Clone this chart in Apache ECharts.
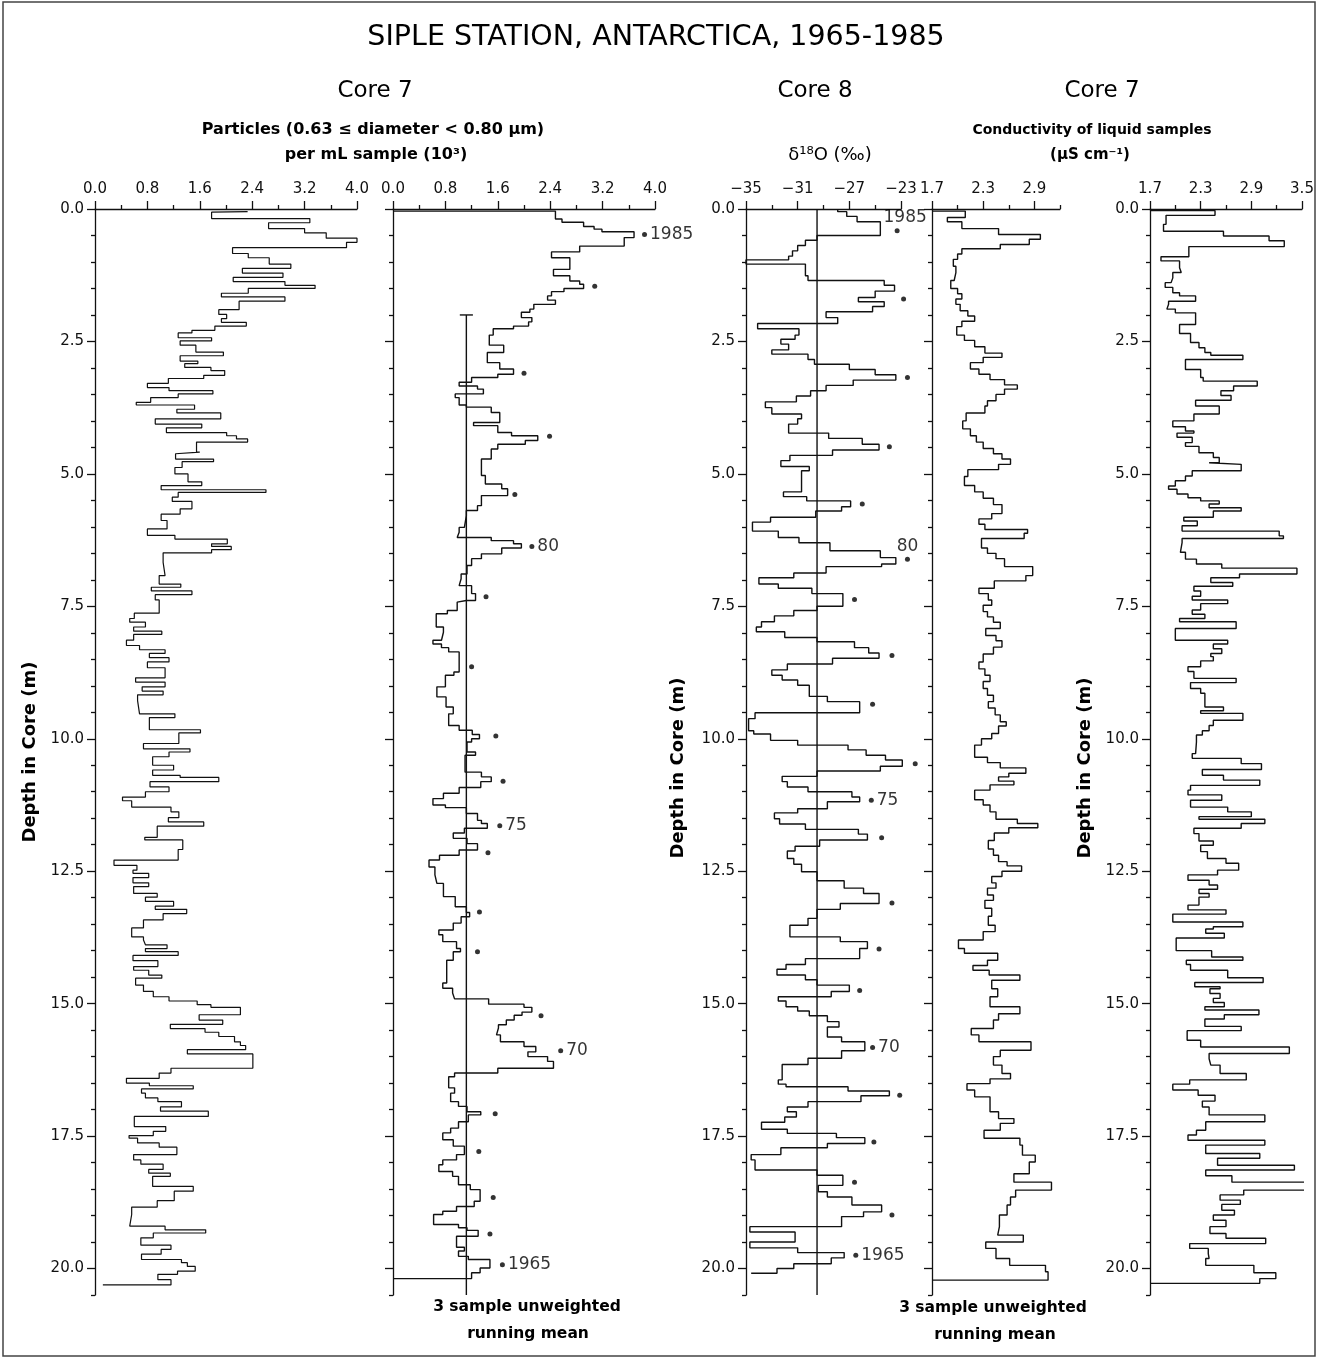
<!DOCTYPE html>
<html>
<head>
<meta charset="utf-8">
<title>Siple Station, Antarctica, 1965-1985</title>
<script src="https://cdn.jsdelivr.net/npm/echarts/dist/echarts.min.js"></script>
<style>
  html, body { margin: 0; padding: 0; background: #fff; }
  #main { width: 1319px; height: 1358px; }
</style>
</head>
<body>
<div id="main"></div>

<script>
// depth axis ticks (m)
var depthMajor = [0, 2.5, 5, 7.5, 10, 12.5, 15, 17.5, 20];
var depthMinor = [0.5, 1, 1.5, 2, 3, 3.5, 4, 4.5, 5.5, 6, 6.5, 7, 8, 8.5, 9, 9.5, 10.5, 11, 11.5, 12,
  13, 13.5, 14, 14.5, 15.5, 16, 16.5, 17, 18, 18.5, 19, 19.5, 20.5];

// top axis ticks of each panel
var partMajor = [0, 0.8, 1.6, 2.4, 3.2, 4.0];
var partMinor = [0.4, 1.2, 2.0, 2.8, 3.6];
var d18Major = [-35, -31, -27, -23];
var d18Minor = [-33, -29, -25];
var condMeanMajor = [1.7, 2.3, 2.9];
var condMeanMinor = [2.0, 2.6, 3.2];
var condMajor = [1.7, 2.3, 2.9, 3.5];
var condMinor = [2.0, 2.6, 3.2];

// Core 7 particles, raw samples: depth of top of each step and value (10^3 per mL)
var partDepth = [
  0.05, 0.06, 0.18, 0.26, 0.37, 0.45, 0.55, 0.63, 0.73, 0.84,
  0.92, 1.04, 1.12, 1.21, 1.29, 1.37, 1.44, 1.50, 1.59, 1.66,
  1.74, 1.90, 1.99, 2.07, 2.14, 2.21, 2.29, 2.34, 2.43, 2.49,
  2.57, 2.70, 2.77, 2.87, 2.92, 2.99, 3.05, 3.14, 3.20, 3.29,
  3.37, 3.43, 3.49, 3.56, 3.65, 3.70, 3.78, 3.85, 3.96, 4.06,
  4.13, 4.22, 4.28, 4.34, 4.40, 4.59, 4.62, 4.72, 4.77, 4.88,
  5.00, 5.15, 5.22, 5.30, 5.35, 5.44, 5.52, 5.66, 5.76, 5.88,
  6.04, 6.16, 6.23, 6.32, 6.37, 6.43, 6.49, 6.67, 6.92, 7.08,
  7.14, 7.21, 7.28, 7.38, 7.63, 7.73, 7.80, 7.89, 7.97, 8.03,
  8.14, 8.24, 8.32, 8.39, 8.47, 8.55, 8.66, 8.85, 8.93, 9.02,
  9.10, 9.17, 9.28, 9.53, 9.60, 9.83, 9.89, 10.09, 10.19, 10.25,
  10.34, 10.50, 10.59, 10.69, 10.73, 10.81, 10.91, 11.00, 11.10, 11.17,
  11.29, 11.38, 11.49, 11.57, 11.65, 11.86, 11.91, 12.09, 12.29, 12.39,
  12.48, 12.54, 12.62, 12.72, 12.79, 12.92, 12.99, 13.07, 13.16, 13.22,
  13.30, 13.42, 13.57, 13.74, 13.80, 13.89, 13.96, 14.02, 14.09, 14.19,
  14.30, 14.37, 14.46, 14.52, 14.65, 14.77, 14.87, 14.95, 15.02, 15.07,
  15.21, 15.31, 15.39, 15.47, 15.54, 15.62, 15.72, 15.79, 15.87, 15.95,
  16.22, 16.31, 16.41, 16.50, 16.55, 16.61, 16.69, 16.78, 16.85, 16.95,
  17.03, 17.13, 17.32, 17.41, 17.49, 17.54, 17.63, 17.71, 17.85, 17.95,
  18.03, 18.13, 18.20, 18.26, 18.45, 18.54, 18.72, 18.84, 18.98, 19.20,
  19.27, 19.33, 19.42, 19.56, 19.64, 19.73, 19.83, 19.89, 19.96, 20.05,
  20.11, 20.21, 20.31
];
var partVal = [
  2.33, 1.78, 3.28, 2.65, 3.20, 3.53, 4.00, 3.84, 2.10, 2.34,
  2.66, 2.99, 2.25, 2.87, 2.11, 2.90, 3.36, 2.34, 1.93, 2.90,
  2.20, 1.89, 2.01, 1.93, 2.31, 1.83, 1.48, 1.27, 1.78, 1.30,
  1.54, 1.96, 1.30, 1.57, 1.37, 1.77, 1.98, 1.66, 1.12, 0.80,
  1.13, 1.80, 1.27, 0.85, 0.63, 1.52, 1.25, 1.92, 0.92, 1.63,
  1.09, 2.01, 2.16, 2.33, 1.55, 1.60, 1.23, 1.81, 1.33, 1.22,
  1.42, 1.63, 1.01, 2.61, 1.27, 1.18, 1.48, 1.30, 1.01, 1.10,
  0.80, 1.22, 2.02, 1.78, 2.08, 1.78, 1.04, 1.07, 0.98, 1.31,
  0.86, 1.48, 0.92, 0.98, 0.60, 0.53, 0.77, 0.59, 1.02, 0.59,
  0.48, 0.68, 1.07, 0.83, 1.13, 0.80, 1.07, 0.62, 1.07, 0.72,
  1.04, 0.65, 0.68, 1.22, 0.83, 1.61, 1.28, 0.74, 1.45, 1.13,
  0.88, 1.20, 0.88, 1.30, 1.89, 0.84, 1.13, 0.77, 0.42, 0.56,
  1.16, 1.28, 1.12, 1.66, 0.95, 0.76, 1.34, 1.27, 0.29, 0.64,
  0.58, 0.82, 0.58, 0.82, 0.59, 0.95, 0.77, 1.20, 0.92, 1.40,
  1.04, 0.74, 0.56, 0.74, 0.77, 1.10, 0.77, 1.27, 0.58, 0.96,
  0.59, 0.82, 1.02, 0.62, 0.74, 0.89, 1.13, 1.56, 1.77, 2.22,
  1.59, 1.95, 1.15, 1.68, 1.89, 2.13, 2.22, 2.30, 1.41, 2.41,
  1.16, 0.98, 0.48, 0.83, 1.50, 0.71, 0.77, 0.96, 1.32, 1.00,
  1.73, 0.60, 1.08, 0.89, 0.52, 0.65, 0.98, 1.25, 0.59, 0.70,
  1.04, 0.82, 1.15, 0.88, 1.50, 1.21, 0.95, 0.56, 0.53, 1.07,
  1.69, 0.89, 0.70, 1.16, 1.01, 0.71, 1.32, 1.41, 1.53, 1.26,
  0.96, 1.16, 0.12
];
var partEnd = 20.31;

// Core 7 particles, 3 sample running mean
var partMeanDepth = [
  0.04, 0.19, 0.25, 0.33, 0.38, 0.43, 0.54, 0.70, 0.81, 0.92,
  1.14, 1.26, 1.36, 1.42, 1.50, 1.56, 1.64, 1.72, 1.80, 1.89,
  1.95, 2.05, 2.13, 2.21, 2.26, 2.38, 2.57, 2.71, 2.90, 3.02,
  3.12, 3.18, 3.27, 3.34, 3.40, 3.49, 3.56, 3.70, 3.74, 3.84,
  4.03, 4.09, 4.22, 4.28, 4.37, 4.44, 4.53, 4.72, 5.03, 5.19,
  5.28, 5.41, 5.60, 5.69, 5.79, 6.01, 6.10, 6.20, 6.26, 6.32,
  6.40, 6.51, 6.60, 6.73, 6.89, 6.98, 7.11, 7.26, 7.39, 7.42,
  7.58, 7.64, 7.89, 7.99, 8.14, 8.21, 8.28, 8.36, 8.74, 8.80,
  9.02, 9.21, 9.40, 9.53, 9.75, 9.84, 9.92, 10.00, 10.06, 10.25,
  10.31, 10.63, 10.72, 10.81, 10.92, 11.03, 11.13, 11.25, 11.30, 11.41,
  11.54, 11.60, 11.69, 11.78, 11.88, 11.98, 12.10, 12.20, 12.29, 12.42,
  12.57, 12.73, 12.98, 13.17, 13.28, 13.36, 13.48, 13.61, 13.70, 13.83,
  13.96, 14.02, 14.18, 14.61, 14.71, 14.80, 14.91, 15.01, 15.07, 15.16,
  15.22, 15.31, 15.40, 15.46, 15.59, 15.72, 15.81, 15.91, 16.00, 16.09,
  16.22, 16.31, 16.38, 16.59, 16.69, 16.85, 16.94, 17.04, 17.10, 17.23,
  17.35, 17.44, 17.57, 17.69, 17.85, 17.95, 18.04, 18.17, 18.26, 18.42,
  18.51, 18.73, 18.83, 18.92, 18.98, 19.17, 19.23, 19.28, 19.39, 19.60,
  19.67, 19.77, 19.83, 19.99, 20.08
];
var partMeanVal = [
  2.48, 2.58, 2.91, 3.07, 3.19, 3.68, 3.53, 2.85, 2.42, 2.70,
  2.45, 2.70, 2.85, 2.91, 2.61, 2.42, 2.36, 2.48, 2.15, 2.09,
  1.96, 2.12, 2.07, 1.84, 1.53, 1.47, 1.69, 1.44, 1.63, 1.84,
  1.60, 1.20, 1.01, 1.29, 1.38, 0.95, 1.01, 1.12, 1.50, 1.63,
  1.23, 1.60, 1.81, 2.21, 2.02, 1.60, 1.50, 1.35, 1.41, 1.66,
  1.75, 1.35, 1.29, 1.12, 1.09, 1.01, 0.98, 1.50, 1.84, 1.96,
  1.66, 1.35, 1.20, 1.13, 1.04, 1.01, 1.20, 1.26, 1.12, 0.98,
  0.83, 0.66, 0.77, 0.74, 0.61, 0.74, 0.85, 1.01, 0.93, 0.80,
  0.67, 0.81, 0.92, 0.85, 1.01, 1.21, 1.32, 1.20, 1.13, 1.26,
  1.10, 1.35, 1.50, 1.34, 1.01, 0.77, 0.61, 0.80, 1.12, 1.29,
  1.35, 1.44, 1.09, 0.92, 1.13, 1.29, 1.01, 0.71, 0.55, 0.64,
  0.67, 0.77, 0.95, 1.12, 1.17, 1.04, 0.92, 0.70, 0.76, 0.97,
  1.03, 0.92, 0.82, 0.76, 0.91, 0.94, 1.46, 2.00, 2.12, 1.97,
  1.85, 1.73, 1.61, 1.58, 1.64, 2.00, 2.18, 2.06, 2.36, 2.45,
  1.60, 0.94, 0.85, 0.94, 0.88, 1.00, 1.13, 1.34, 1.15, 1.00,
  0.88, 0.76, 0.92, 1.09, 0.97, 0.76, 0.70, 0.91, 1.00, 1.18,
  1.33, 1.24, 0.97, 0.76, 0.62, 1.00, 1.13, 1.30, 0.97, 1.09,
  1.00, 1.15, 1.48, 1.33, 1.20
];
var partMeanEnd = 20.19;
var partMeanRef = 1.12;       // mean line, drawn from 2.0 m down
var partMeanRefTop = 2.0;

// Core 8 delta 18O (per mil)
var d18Depth = [
  0.00, 0.05, 0.14, 0.24, 0.50, 0.59, 0.69, 0.79, 0.89, 0.96,
  1.04, 1.26, 1.35, 1.44, 1.55, 1.67, 1.75, 1.84, 1.94, 2.05,
  2.16, 2.26, 2.38, 2.46, 2.55, 2.66, 2.74, 2.84, 2.93, 3.03,
  3.13, 3.23, 3.33, 3.43, 3.53, 3.64, 3.75, 3.87, 3.96, 4.06,
  4.23, 4.33, 4.44, 4.55, 4.65, 4.75, 4.86, 4.94, 5.34, 5.43,
  5.51, 5.62, 5.70, 5.82, 5.91, 6.08, 6.20, 6.30, 6.45, 6.58,
  6.70, 6.75, 6.87, 6.96, 7.08, 7.16, 7.26, 7.50, 7.58, 7.68,
  7.79, 7.89, 7.98, 8.09, 8.17, 8.28, 8.38, 8.48, 8.59, 8.70,
  8.80, 8.89, 8.99, 9.20, 9.30, 9.51, 9.62, 9.85, 9.91, 10.03,
  10.12, 10.21, 10.31, 10.40, 10.52, 10.61, 10.71, 10.81, 10.91, 11.00,
  11.10, 11.19, 11.32, 11.40, 11.51, 11.61, 11.71, 11.80, 11.91, 12.03,
  12.12, 12.26, 12.37, 12.51, 12.68, 12.82, 12.92, 13.11, 13.22, 13.39,
  13.52, 13.74, 13.83, 13.96, 14.15, 14.26, 14.35, 14.46, 14.55, 14.65,
  14.77, 14.87, 14.95, 15.06, 15.14, 15.23, 15.34, 15.44, 15.63, 15.72,
  15.89, 16.03, 16.15, 16.44, 16.52, 16.57, 16.65, 16.74, 16.85, 16.95,
  17.04, 17.14, 17.24, 17.37, 17.45, 17.53, 17.64, 17.72, 17.85, 17.95,
  18.14, 18.24, 18.43, 18.55, 18.65, 18.80, 18.93, 19.02, 19.21, 19.31,
  19.50, 19.61, 19.70, 19.80, 19.91, 20.00, 20.09
];
var d18Val = [
  -27.9, -27.2, -26.4, -24.6, -29.5, -30.4, -31.0, -31.4, -31.7, -35.0,
  -30.4, -30.2, -24.3, -23.5, -25.0, -26.3, -24.3, -25.2, -28.8, -27.9,
  -34.1, -30.9, -31.2, -32.3, -31.7, -33.0, -30.2, -29.7, -27.0, -25.0,
  -23.4, -26.7, -28.8, -30.0, -31.1, -33.5, -33.0, -30.7, -31.0, -31.7,
  -28.6, -26.0, -24.7, -28.3, -31.6, -32.3, -30.1, -30.7, -32.1, -30.3,
  -26.9, -27.6, -29.6, -33.1, -34.5, -32.5, -30.9, -28.5, -24.6, -23.4,
  -24.5, -28.8, -31.3, -34.0, -32.5, -29.9, -27.5, -29.5, -31.3, -32.8,
  -33.8, -34.2, -32.0, -29.5, -26.6, -25.5, -24.7, -28.3, -31.8, -33.0,
  -32.2, -31.0, -30.1, -28.7, -26.2, -34.3, -34.8, -34.4, -33.1, -31.0,
  -27.1, -25.7, -24.2, -22.9, -24.6, -29.5, -32.2, -31.8, -30.2, -26.8,
  -26.2, -28.7, -31.0, -32.8, -32.4, -30.4, -26.3, -25.6, -29.3, -31.2,
  -31.8, -31.3, -30.7, -29.5, -27.4, -25.9, -24.7, -27.7, -29.5, -30.2,
  -31.6, -27.7, -25.6, -26.2, -30.4, -31.9, -32.6, -30.4, -29.5, -27.0,
  -28.4, -32.5, -31.9, -31.0, -30.1, -28.7, -27.8, -28.7, -27.6, -25.8,
  -27.6, -30.2, -32.2, -32.5, -31.9, -27.1, -23.9, -26.1, -30.2, -31.8,
  -31.1, -32.0, -33.8, -31.8, -28.0, -25.8, -28.7, -32.3, -34.6, -34.3,
  -29.5, -27.5, -29.4, -28.7, -26.8, -24.5, -25.9, -27.6, -34.7, -31.2,
  -34.7, -31.0, -27.4, -28.4, -31.3, -32.6, -34.6
];
var d18End = 20.09;
var d18Ref = -29.5;

// Core 7 conductivity, 3 sample running mean (uS/cm)
var condMeanDepth = [
  0.04, 0.16, 0.24, 0.37, 0.48, 0.57, 0.67, 0.75, 0.85, 0.95,
  1.08, 1.20, 1.35, 1.50, 1.60, 1.70, 1.80, 1.92, 2.02, 2.12,
  2.22, 2.38, 2.48, 2.60, 2.72, 2.80, 2.90, 3.02, 3.12, 3.22,
  3.32, 3.40, 3.50, 3.62, 3.72, 3.85, 4.00, 4.15, 4.28, 4.40,
  4.52, 4.62, 4.72, 4.82, 4.92, 5.05, 5.22, 5.34, 5.46, 5.58,
  5.75, 5.85, 5.95, 6.05, 6.12, 6.22, 6.40, 6.50, 6.60, 6.75,
  6.92, 7.02, 7.16, 7.26, 7.38, 7.48, 7.60, 7.70, 7.80, 7.92,
  8.05, 8.15, 8.27, 8.40, 8.55, 8.68, 8.80, 8.92, 9.05, 9.18,
  9.30, 9.42, 9.55, 9.68, 9.76, 9.90, 10.00, 10.12, 10.35, 10.45,
  10.55, 10.65, 10.72, 10.80, 10.87, 10.97, 11.15, 11.25, 11.38, 11.52,
  11.60, 11.68, 11.78, 11.92, 12.08, 12.20, 12.32, 12.40, 12.50, 12.60,
  12.72, 12.82, 12.95, 13.05, 13.20, 13.35, 13.52, 13.64, 13.80, 13.96,
  14.05, 14.18, 14.28, 14.37, 14.46, 14.56, 14.72, 14.87, 15.06, 15.19,
  15.31, 15.47, 15.59, 15.72, 15.88, 16.00, 16.16, 16.32, 16.42, 16.51,
  16.63, 16.76, 17.04, 17.17, 17.26, 17.39, 17.54, 17.67, 17.86, 17.99,
  18.21, 18.37, 18.52, 18.65, 18.80, 18.99, 19.21, 19.37, 19.50, 19.62,
  19.81, 19.94, 20.06
];
var condMeanVal = [
  2.09, 1.88, 2.05, 2.48, 2.97, 2.84, 2.50, 2.05, 2.00, 1.95,
  1.98, 1.96, 1.92, 2.00, 2.05, 1.98, 2.03, 2.12, 2.20, 2.05,
  1.99, 2.08, 2.20, 2.32, 2.52, 2.30, 2.15, 2.25, 2.38, 2.55,
  2.70, 2.55, 2.45, 2.35, 2.32, 2.10, 2.06, 2.15, 2.22, 2.30,
  2.42, 2.52, 2.62, 2.48, 2.12, 2.08, 2.20, 2.30, 2.42, 2.52,
  2.40, 2.25, 2.32, 2.82, 2.78, 2.28, 2.35, 2.45, 2.55, 2.88,
  2.80, 2.43, 2.25, 2.36, 2.40, 2.30, 2.35, 2.42, 2.50, 2.33,
  2.45, 2.52, 2.42, 2.30, 2.25, 2.32, 2.38, 2.30, 2.35, 2.42,
  2.36, 2.44, 2.50, 2.57, 2.48, 2.40, 2.28, 2.20, 2.35, 2.50,
  2.80, 2.60, 2.48, 2.66, 2.38, 2.20, 2.30, 2.38, 2.45, 2.70,
  2.94, 2.60, 2.43, 2.36, 2.42, 2.48, 2.58, 2.75, 2.52, 2.40,
  2.45, 2.35, 2.42, 2.32, 2.40, 2.36, 2.44, 2.30, 2.01, 2.08,
  2.47, 2.35, 2.18, 2.37, 2.73, 2.40, 2.47, 2.38, 2.73, 2.48,
  2.42, 2.16, 2.25, 2.86, 2.50, 2.42, 2.52, 2.62, 2.38, 2.11,
  2.20, 2.38, 2.48, 2.66, 2.50, 2.31, 2.73, 2.76, 2.91, 2.84,
  2.66, 3.10, 2.68, 2.62, 2.58, 2.49, 2.47, 2.77, 2.33, 2.45,
  2.61, 3.03, 3.06
];
var condMeanEnd = 20.22;

// Core 7 conductivity of liquid samples, raw (uS/cm)
var condDepth = [
  0.03, 0.12, 0.29, 0.42, 0.51, 0.60, 0.71, 0.90, 0.98, 1.11,
  1.20, 1.30, 1.39, 1.48, 1.58, 1.64, 1.74, 1.80, 1.89, 1.96,
  2.18, 2.35, 2.52, 2.62, 2.71, 2.76, 2.84, 3.03, 3.18, 3.25,
  3.34, 3.43, 3.52, 3.61, 3.72, 3.87, 4.00, 4.11, 4.19, 4.23,
  4.31, 4.41, 4.48, 4.60, 4.69, 4.79, 4.82, 4.94, 5.04, 5.13,
  5.23, 5.29, 5.38, 5.45, 5.51, 5.57, 5.64, 5.70, 5.82, 5.89,
  5.98, 6.08, 6.17, 6.22, 6.30, 6.48, 6.61, 6.70, 6.78, 6.89,
  6.96, 7.05, 7.12, 7.21, 7.31, 7.38, 7.45, 7.57, 7.65, 7.73,
  7.79, 7.92, 8.14, 8.21, 8.30, 8.39, 8.45, 8.53, 8.64, 8.73,
  8.86, 8.94, 9.05, 9.14, 9.40, 9.47, 9.52, 9.65, 9.75, 9.85,
  9.93, 10.06, 10.28, 10.37, 10.47, 10.58, 10.69, 10.78, 10.88, 10.97,
  11.06, 11.16, 11.29, 11.38, 11.47, 11.52, 11.60, 11.69, 11.79, 11.93,
  12.01, 12.13, 12.26, 12.35, 12.48, 12.57, 12.67, 12.76, 12.84, 12.92,
  12.99, 13.14, 13.23, 13.31, 13.46, 13.55, 13.59, 13.67, 13.76, 14.00,
  14.12, 14.18, 14.26, 14.37, 14.51, 14.60, 14.68, 14.72, 14.81, 14.90,
  14.98, 15.06, 15.12, 15.21, 15.29, 15.43, 15.51, 15.69, 15.82, 15.94,
  16.04, 16.16, 16.32, 16.44, 16.52, 16.63, 16.73, 16.84, 16.95, 17.10,
  17.23, 17.39, 17.48, 17.58, 17.67, 17.83, 17.92, 18.05, 18.14, 18.25,
  18.37, 18.52, 18.61, 18.71, 18.79, 18.90, 18.99, 19.09, 19.21, 19.34,
  19.43, 19.53, 19.62, 19.72, 19.81, 19.94, 20.08, 20.19
];
var condVal = [
  2.47, 1.89, 1.86, 2.57, 3.11, 3.29, 2.16, 1.83, 2.05, 2.07,
  1.97, 1.95, 1.88, 1.97, 2.05, 2.24, 1.92, 1.90, 2.00, 2.24,
  2.05, 2.18, 2.28, 2.35, 2.42, 2.80, 2.12, 2.30, 2.33, 2.97,
  2.69, 2.54, 2.66, 2.24, 2.52, 2.22, 1.97, 2.12, 2.22, 2.02,
  2.20, 2.12, 2.28, 2.45, 2.52, 2.40, 2.78, 2.20, 2.12, 2.00,
  1.92, 2.02, 2.15, 2.30, 2.52, 2.40, 2.78, 2.45, 2.10, 2.26,
  2.08, 3.23, 3.28, 2.08, 2.06, 2.12, 2.25, 2.55, 3.44, 2.76,
  2.42, 2.68, 2.22, 2.30, 2.20, 2.62, 2.30, 2.20, 2.35, 2.05,
  2.72, 2.00, 2.62, 2.45, 2.55, 2.42, 2.45, 2.30, 2.15, 2.22,
  2.72, 2.18, 2.30, 2.35, 2.57, 2.30, 2.80, 2.45, 2.40, 2.32,
  2.25, 2.24, 2.20, 2.78, 3.02, 2.32, 2.57, 3.00, 2.18, 2.15,
  2.55, 2.18, 2.62, 2.90, 2.28, 3.06, 2.78, 2.22, 2.28, 2.45,
  2.30, 2.38, 2.60, 2.75, 2.50, 2.15, 2.40, 2.50, 2.28, 2.40,
  2.28, 2.15, 2.60, 1.97, 2.80, 2.45, 2.36, 2.58, 2.01, 2.43,
  2.80, 2.13, 2.18, 2.62, 3.04, 2.23, 2.53, 2.41, 2.53, 2.45,
  2.58, 2.35, 2.99, 2.58, 2.35, 2.78, 2.14, 2.30, 3.35, 2.40,
  2.42, 2.53, 2.84, 2.17, 1.97, 2.27, 2.47, 2.32, 2.40, 3.06,
  2.36, 2.25, 2.15, 3.06, 2.36, 3.00, 2.50, 3.41, 2.36, 2.67,
  3.54, 2.81, 2.53, 2.77, 2.55, 2.70, 2.45, 2.60, 2.41, 2.60,
  3.07, 2.17, 2.39, 2.40, 2.36, 2.93, 3.19, 3.00
];
var condEnd = 20.28;

// dated summer layers (dots) in the two middle panels
var partDotDepth = [0.48, 1.46, 3.10, 4.29, 5.39, 6.37, 7.32, 8.64, 9.95, 10.80, 11.64,
  12.15, 13.27, 14.02, 15.23, 15.89, 17.08, 17.79, 18.66, 19.35, 19.93];
var partDotVal = [3.84, 3.08, 2.00, 2.39, 1.86, 2.12, 1.42, 1.20, 1.57, 1.68, 1.63,
  1.45, 1.32, 1.29, 2.26, 2.56, 1.56, 1.31, 1.53, 1.48, 1.67];
var partDotLabel = ['1985', '', '', '', '', '80', '', '', '', '', '75',
  '', '', '', '', '70', '', '', '', '', '1965'];

var d18DotDepth = [0.41, 1.70, 3.18, 4.49, 5.57, 6.61, 7.37, 8.43, 9.35, 10.47, 11.16,
  11.87, 13.10, 13.97, 14.75, 15.83, 16.73, 17.61, 18.37, 18.99, 19.75];
var d18DotVal = [-23.3, -22.8, -22.5, -23.9, -26.0, -22.5, -26.6, -23.7, -25.2, -21.9, -25.3,
  -24.5, -23.7, -24.7, -26.2, -25.2, -23.1, -25.1, -26.6, -23.7, -26.5];
var d18DotLabel = ['1985', '', '', '', '', '80', '', '', '', '', '75',
  '', '', '', '', '70', '', '', '', '', '1965'];

var ink = '#111';
var font = '"DejaVu Sans", Verdana, sans-serif';
var plotTop = 209;
var plotHeight = 1086;
var depthMax = 20.5;

/** turn (top depth, value) steps into the outline of a vertical step plot */
function stepData(depth, val, end, startX, endX) {
	var pts = [];
	if (startX !== null) pts.push([startX, depth[0]]);
	for (var i = 0; i < val.length; i++) {
		var next = i + 1 < depth.length ? depth[i + 1] : end;
		pts.push([val[i], depth[i]]);
		pts.push([val[i], next]);
	}
	if (endX !== null) pts.push([endX, end]);
	return pts;
}

function dotData(depth, val, label, topLabels) {
	var list = [];
	for (var i = 0; i < depth.length; i++) {
		var item = { value: [val[i], depth[i]], name: label[i] };
		if (topLabels && (label[i] === '1985' || label[i] === '80')) {
			item.label = { position: 'top', offset: label[i] === '1985' ? [8, 0] : [0, 0], distance: 2 };
		}
		list.push(item);
	}
	return list;
}

function fixed1(v) { return (+v).toFixed(1); }
function minusInt(v) { return v < 0 ? '\u2212' + Math.abs(v) : '' + v; }

var panels = [
	{ left: 95,   width: 262, min: 0,   max: 4,   major: partMajor,     minor: partMinor,     fmt: fixed1,   depthLabels: true },
	{ left: 393,  width: 262, min: 0,   max: 4,   major: partMajor,     minor: partMinor,     fmt: fixed1,   depthLabels: false },
	{ left: 746,  width: 155, min: -35, max: -23, major: d18Major,      minor: d18Minor,      fmt: minusInt, depthLabels: true },
	{ left: 932,  width: 128, min: 1.7, max: 3.2, major: condMeanMajor, minor: condMeanMinor, fmt: fixed1,   depthLabels: false },
	{ left: 1150, width: 152, min: 1.7, max: 3.5, major: condMajor,     minor: condMinor,     fmt: fixed1,   depthLabels: true }
];

var grid = [], xAxis = [], yAxis = [];
panels.forEach(function (p, i) {
	grid.push({ left: p.left, top: plotTop, width: p.width, height: plotHeight });
	xAxis.push({
		gridIndex: i, type: 'value', position: 'top', min: p.min, max: p.max,
		axisLine: { lineStyle: { color: ink, width: 1.3 } },
		axisTick: { length: 8, customValues: p.major, lineStyle: { color: ink, width: 1.3 } },
		axisLabel: { customValues: p.major, formatter: p.fmt, margin: 12, color: ink, fontSize: 15, fontFamily: font },
		splitLine: { show: false }
	});
	xAxis.push({
		gridIndex: i, type: 'value', position: 'top', min: p.min, max: p.max,
		axisLine: { show: false },
		axisTick: { length: 4, customValues: p.minor, lineStyle: { color: ink, width: 1.3 } },
		axisLabel: { show: false },
		splitLine: { show: false }
	});
	yAxis.push({
		gridIndex: i, type: 'value', inverse: true, min: 0, max: depthMax, position: 'left',
		axisLine: { lineStyle: { color: ink, width: 1.3 } },
		axisTick: { length: 8, customValues: depthMajor, lineStyle: { color: ink, width: 1.3 } },
		axisLabel: { show: p.depthLabels, customValues: depthMajor, formatter: fixed1, margin: 11,
			color: ink, fontSize: 15, fontFamily: font },
		splitLine: { show: false }
	});
	yAxis.push({
		gridIndex: i, type: 'value', inverse: true, min: 0, max: depthMax, position: 'left',
		axisLine: { show: false },
		axisTick: { length: 4, customValues: depthMinor, lineStyle: { color: ink, width: 1.3 } },
		axisLabel: { show: false },
		splitLine: { show: false }
	});
});

function stepSeries(i, data, width) {
	return {
		type: 'line', xAxisIndex: 2 * i, yAxisIndex: 2 * i, data: data,
		symbol: 'none', showSymbol: false, clip: false, silent: true,
		lineStyle: { color: ink, width: width || 1.4 }
	};
}

var dotLabel = { show: true, position: 'right', distance: 3, formatter: '{b}',
	color: '#000', fontSize: 17, fontFamily: font };

var series = [
	stepSeries(0, stepData(partDepth, partVal, partEnd, null, null), 1.2),
	stepSeries(1, stepData(partMeanDepth, partMeanVal, partMeanEnd, 0, 0)),
	stepSeries(1, [[partMeanRef, partMeanRefTop], [partMeanRef, depthMax]]),
	stepSeries(1, [[partMeanRef - 0.1, partMeanRefTop], [partMeanRef + 0.1, partMeanRefTop]]),
	stepSeries(2, stepData(d18Depth, d18Val, d18End, null, null)),
	stepSeries(2, [[d18Ref, 0], [d18Ref, depthMax]]),
	stepSeries(3, stepData(condMeanDepth, condMeanVal, condMeanEnd, 1.7, 1.7)),
	stepSeries(4, stepData(condDepth, condVal, condEnd, 1.7, 1.7)),
	{
		type: 'scatter', xAxisIndex: 2, yAxisIndex: 2, clip: false, silent: true,
		symbol: 'circle', symbolSize: 5, itemStyle: { color: '#000' },
		label: dotLabel,
		data: dotData(partDotDepth, partDotVal, partDotLabel, false)
	},
	{
		type: 'scatter', xAxisIndex: 4, yAxisIndex: 4, clip: false, silent: true,
		symbol: 'circle', symbolSize: 5, itemStyle: { color: '#000' },
		label: dotLabel,
		data: dotData(d18DotDepth, d18DotVal, d18DotLabel, true)
	}
];

function txt(x, y, text, size, weight, rot) {
	return {
		type: 'text', x: x, y: y, rotation: rot || 0, silent: true,
		style: { text: text, fill: '#000', fontSize: size, fontWeight: weight || 'normal', fontFamily: font,
			textAlign: 'center', textVerticalAlign: 'middle' }
	};
}

var graphic = [
	{ type: 'rect', silent: true, shape: { x: 3, y: 2, width: 1312, height: 1354 },
		style: { fill: 'none', stroke: '#444', lineWidth: 1.5 } },
	txt(656, 38, 'SIPLE STATION, ANTARCTICA, 1965-1985', 28.5, 'normal'),
	txt(375, 91, 'Core 7', 23),
	txt(815, 91, 'Core 8', 23),
	txt(1102, 91, 'Core 7', 23),
	txt(373, 130, 'Particles (0.63 \u2264 diameter < 0.80 \u00b5m)', 16, 'bold'),
	txt(376, 155, 'per mL sample (10\u00b3)', 16, 'bold'),
	txt(830, 155, '\u03b4\u00b9\u2078O (\u2030)', 18, 'normal'),
	txt(1092, 130, 'Conductivity of liquid samples', 14, 'bold'),
	txt(1090, 155, '(\u00b5S cm\u207b\u00b9)', 15, 'bold'),
	txt(30, 752, 'Depth in Core (m)', 18, 'bold', Math.PI / 2),
	txt(678, 768, 'Depth in Core (m)', 18, 'bold', Math.PI / 2),
	txt(1085, 768, 'Depth in Core (m)', 18, 'bold', Math.PI / 2),
	txt(527, 1307, '3 sample unweighted', 15.5, 'bold'),
	txt(528, 1334, 'running mean', 15.5, 'bold'),
	txt(993, 1308, '3 sample unweighted', 15.5, 'bold'),
	txt(995, 1335, 'running mean', 15.5, 'bold')
];

var myChart = echarts.init(document.getElementById('main'));
myChart.setOption({
	backgroundColor: '#fff',
	animation: false,
	grid: grid,
	xAxis: xAxis,
	yAxis: yAxis,
	series: series,
	graphic: graphic
});
</script>
</body>
</html>
